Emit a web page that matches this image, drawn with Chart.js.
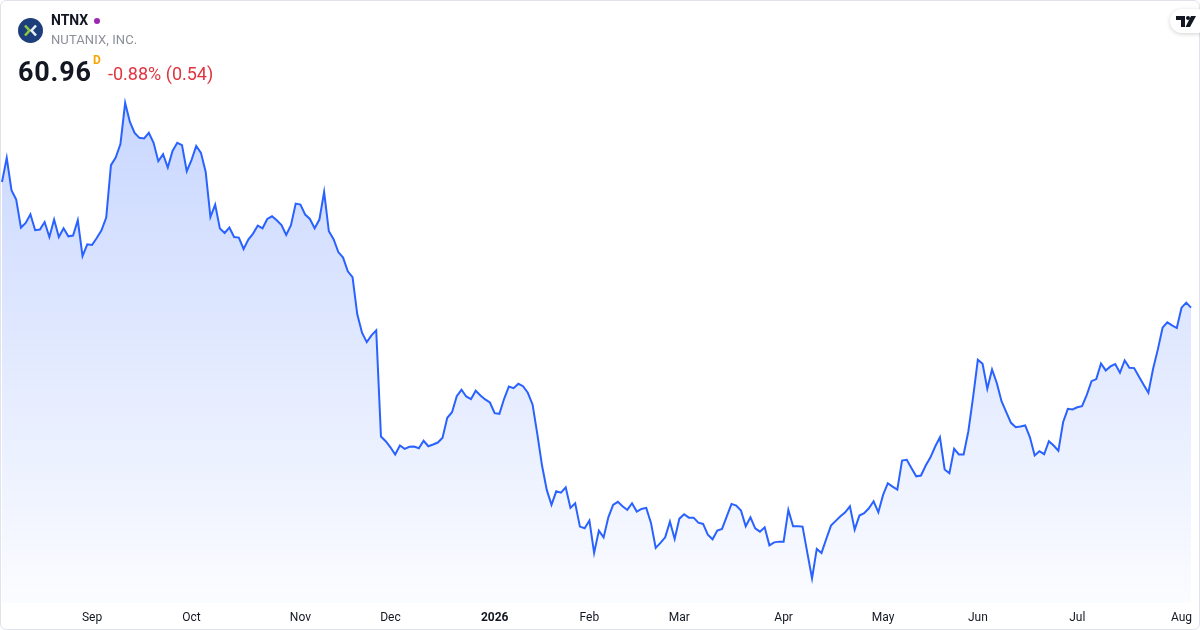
<!DOCTYPE html>
<html>
<head>
<meta charset="utf-8">
<script src="https://cdn.jsdelivr.net/npm/chart.js@4.4.1/dist/chart.umd.min.js"></script>
<style>
  html, body { margin: 0; padding: 0; background: #fff; }
  body { width: 1200px; height: 630px; position: relative; overflow: hidden; font-family: Roboto, "Noto Sans", sans-serif; }
  #chart { position: absolute; left: 0; top: 0; }
  .frame { position: absolute; left: 0; top: 0; width: 1198px; height: 628px; border: 1px solid #e0e3eb; border-radius: 6px; pointer-events: none; }
  .logo { position: absolute; left: 18px; top: 18px; width: 25px; height: 25px; }
  .sym { position: absolute; left: 51px; top: 12px; font-size: 14px; font-weight: 700; color: #131722; }
  .dot { position: absolute; left: 94px; top: 18px; width: 6px; height: 6px; border-radius: 50%; background: #9c27b0; }
  .name { position: absolute; left: 51px; top: 32px; font-size: 13px; color: #8c8f99; letter-spacing: 0.1px; }
  .price { position: absolute; left: 18px; top: 56px; font-size: 27px; font-weight: 700; color: #131722; letter-spacing: 0.8px; }
  .dflag { position: absolute; left: 93px; top: 53px; font-size: 12px; font-weight: 700; color: #f7a600; }
  .chg { position: absolute; left: 108px; top: 63px; font-size: 18px; color: #e0343f; }
  .tv { position: absolute; left: 1170px; top: 9px; width: 40px; height: 24px; border-radius: 12px; background: #fff; box-shadow: 0 1px 4px rgba(0,0,0,0.18); }
  .tv svg { position: absolute; left: 6px; top: 7px; }
</style>
</head>
<body>
<canvas id="chart" width="1200" height="630"></canvas>
<div class="frame"></div>

<svg class="logo" viewBox="0 0 25 25">
  <circle cx="12.5" cy="12.5" r="12.5" fill="#1c3f7c"/>
  <path d="M7 7.5 L11.5 12.5 L7 17.5" stroke="#8dc63f" stroke-width="2.6" fill="none"/>
  <path d="M18 7.5 L13.5 12.5 L18 17.5" stroke="#e8eef7" stroke-width="2.6" fill="none"/>
</svg>
<div class="sym">NTNX</div>
<div class="dot"></div>
<div class="name">NUTANIX, INC.</div>
<div class="price">60.96</div>
<div class="dflag">D</div>
<div class="chg">-0.88% (0.54)</div>
<div class="tv">
  <svg width="20" height="11" viewBox="0 0 20 11">
    <path d="M0 0 H9 V11 H5 V4 H0 Z" fill="#131722"/>
    <circle cx="12" cy="2" r="2" fill="#131722"/>
    <path d="M15 0 H20 L14 11 H9.5 Z" fill="#131722"/>
  </svg>
</div>

<script>
// daily closes (one per trading day)
const closes = [
  74.52, 77.12, 73.63, 72.62, 69.60, 70.10, 71.04, 69.31, 69.38, 70.20,
  68.58, 70.46, 68.58, 69.52, 68.66, 68.74, 70.39, 66.53, 67.80, 67.72,
  68.48, 69.31, 70.68, 76.33, 77.16, 78.60, 83.06, 81.00, 79.82, 79.28,
  79.21, 79.82, 78.74, 76.76, 77.52, 76.08, 77.87, 78.74, 78.49, 75.68,
  76.87, 78.41, 77.66, 75.60, 70.74, 72.08, 69.49, 69.02, 69.60, 68.58,
  68.52, 67.29, 68.30, 68.95, 69.82, 69.52, 70.53, 70.82, 70.39, 69.88,
  68.80, 69.85, 72.19, 72.08, 71.00, 70.53, 69.52, 70.46, 73.44, 69.20,
  68.34, 66.96, 66.36, 64.88, 64.26, 60.24, 58.26, 57.24, 57.97, 58.51,
  47.06, 46.55, 45.90, 45.12, 46.09, 45.73, 45.95, 45.98, 45.80, 46.60,
  46.01, 46.20, 46.41, 46.92, 49.08, 49.68, 51.41, 52.10, 51.38, 51.09,
  52.00, 51.49, 51.06, 50.73, 49.58, 49.51, 51.13, 52.46, 52.28, 52.75,
  52.49, 51.78, 50.52, 47.35, 43.93, 41.30, 39.68, 41.15, 41.01, 41.58,
  39.36, 39.86, 37.34, 37.16, 37.99, 34.50, 36.91, 36.18, 38.34, 39.68,
  40.01, 39.53, 39.14, 39.86, 38.96, 39.25, 39.36, 37.74, 35.04, 35.58,
  36.18, 37.88, 36.01, 38.20, 38.67, 38.31, 38.31, 37.77, 37.63, 36.48,
  35.97, 36.91, 37.09, 38.45, 39.79, 39.61, 39.07, 37.37, 38.34, 37.16,
  36.80, 37.26, 35.32, 35.64, 35.72, 35.72, 39.14, 37.37, 37.37, 37.34,
  34.53, 31.76, 34.93, 34.50, 36.01, 37.45, 37.96, 38.45, 38.88, 39.53,
  37.02, 38.53, 38.78, 39.32, 40.07, 38.88, 40.76, 42.02, 41.66, 41.34,
  44.47, 44.54, 43.64, 42.77, 42.85, 43.93, 44.82, 45.98, 46.98, 43.50,
  43.10, 45.73, 45.12, 45.12, 47.63, 51.30, 55.34, 54.91, 52.21, 54.30,
  52.84, 50.87, 49.68, 48.54, 48.06, 48.14, 48.25, 46.98, 45.01, 45.47,
  45.15, 46.55, 46.09, 45.52, 48.60, 50.05, 49.98, 50.22, 50.33, 51.56,
  53.03, 53.25, 54.94, 54.19, 54.62, 54.87, 53.94, 55.27, 54.48, 54.44,
  53.54, 52.64, 51.78, 54.37, 56.46, 58.80, 59.37, 59.05, 58.76, 60.96,
  61.50, 60.96
];

// month labels on the time axis and the trading-day index they sit on
const monthNames = ['Sep', 'Oct', 'Nov', 'Dec', '2026', 'Feb', 'Mar', 'Apr', 'May', 'Jun', 'Jul', 'Aug'];
const monthIndex = [19, 40, 63, 82, 104, 124, 143, 165, 186, 206, 227, 249];

// visible price window (no price axis is drawn)
const priceMin = 29.1;
const priceMax = 94.15;

const labels = closes.map((_, i) => {
  const k = monthIndex.indexOf(i);
  return k >= 0 ? monthNames[k] : '';
});

const ctx = document.getElementById('chart');

new Chart(ctx, {
  type: 'line',
  data: {
    labels: labels,
    datasets: [{
      data: closes,
      borderColor: '#2962ff',
      borderWidth: 2,
      pointRadius: 0,
      tension: 0,
      fill: 'start',
      backgroundColor: function(context) {
        const area = context.chart.chartArea;
        if (!area) return 'rgba(41,98,255,0.15)';
        const g = context.chart.ctx.createLinearGradient(0, area.top, 0, area.bottom);
        g.addColorStop(0, 'rgba(41,98,255,0.30)');
        g.addColorStop(1, 'rgba(41,98,255,0.02)');
        return g;
      },
    }],
  },
  options: {
    responsive: false,
    animation: false,
    layout: {
      padding: { left: 2, right: 9, top: 0, bottom: 5 },
    },
    plugins: {
      legend: { display: false },
      tooltip: { enabled: false },
    },
    scales: {
      x: {
        grid: { display: false, drawTicks: false },
        border: { display: false },
        afterFit: function(scale) {
          // keep the plot edge-to-edge, axis strip a fixed height
          scale.paddingLeft = 0;
          scale.paddingRight = 0;
          scale.height = 22;
        },
        ticks: {
          autoSkip: false,
          maxRotation: 0,
          padding: 8,
          color: '#131722',
          font: function(c) {
            return {
              family: 'Roboto, sans-serif',
              size: 12,
              weight: c.tick && c.tick.label === '2026' ? 'bold' : 'normal',
            };
          },
        },
      },
      y: {
        display: false,
        min: priceMin,
        max: priceMax,
      },
    },
  },
});
</script>
</body>
</html>
